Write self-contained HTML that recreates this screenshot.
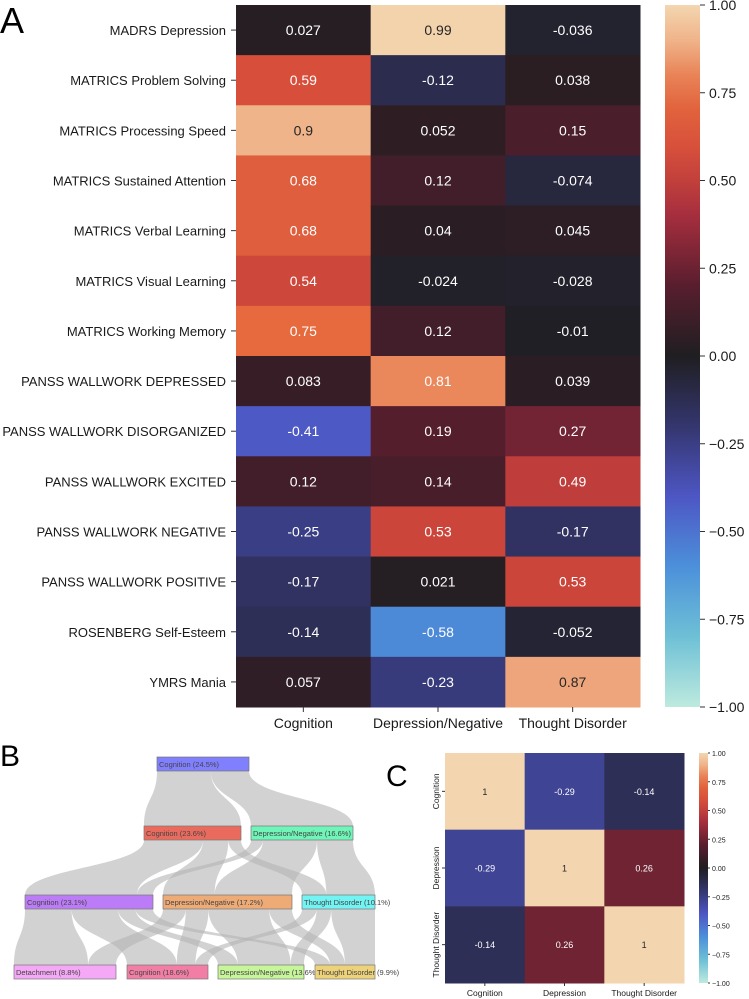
<!DOCTYPE html>
<html><head><meta charset="utf-8"><style>
body{margin:0;background:#fff;font-family:"Liberation Sans","DejaVu Sans",sans-serif;}
svg{display:block}
</style></head><body>
<svg id="fig" width="749" height="999" xmlns="http://www.w3.org/2000/svg">
<text x="0" y="33" font-size="36">A</text>
<text x="0" y="766" font-size="30">B</text>
<text x="386" y="786" font-size="30">C</text>
<g id="main"></g><g id="sankey"></g><g id="corr"></g>
<defs><linearGradient id="cbgrad" x1="0" y1="1" x2="0" y2="0"></linearGradient></defs>
</svg>
<script>
const rowsA=["MADRS Depression","MATRICS Problem Solving","MATRICS Processing Speed","MATRICS Sustained Attention","MATRICS Verbal Learning","MATRICS Visual Learning","MATRICS Working Memory","PANSS WALLWORK DEPRESSED","PANSS WALLWORK DISORGANIZED","PANSS WALLWORK EXCITED","PANSS WALLWORK NEGATIVE","PANSS WALLWORK POSITIVE","ROSENBERG Self-Esteem","YMRS Mania"];
const colsA=["Cognition","Depression/Negative","Thought Disorder"];
const cogVals=[0.027,0.59,0.9,0.68,0.68,0.54,0.75,0.083,-0.41,0.12,-0.25,-0.17,-0.14,0.057];
const depVals=[0.99,-0.12,0.052,0.12,0.04,-0.024,0.12,0.81,0.19,0.14,0.53,0.021,-0.58,-0.23];
const tdVals=[-0.036,0.038,0.15,-0.074,0.045,-0.028,-0.01,0.039,0.27,0.49,-0.17,0.53,-0.052,0.87];
const cbTicks=[1.00,0.75,0.50,0.25,0.00,-0.25,-0.50,-0.75,-1.00];
const corrLabels=["Cognition","Depression","Thought Disorder"];
const corrRow1=[1,-0.29,-0.14];
const corrRow2=[-0.29,1,0.26];
const corrRow3=[-0.14,0.26,1];
const sankeyNodes=[
 {id:"c245",label:"Cognition (24.5%)",lvl:0,x0:157,x1:249,col:"#8080ff"},
 {id:"c236",label:"Cognition (23.6%)",lvl:1,x0:144,x1:241,col:"#ea6b5e"},
 {id:"d166",label:"Depression/Negative (16.6%)",lvl:1,x0:251,x1:353,col:"#6ff5b8"},
 {id:"c231",label:"Cognition (23.1%)",lvl:2,x0:25,x1:153,col:"#bd7cf7"},
 {id:"d172",label:"Depression/Negative (17.2%)",lvl:2,x0:163,x1:292,col:"#efab76"},
 {id:"t101",label:"Thought Disorder (10.1%)",lvl:2,x0:302,x1:375,col:"#72f4f4"},
 {id:"det",label:"Detachment (8.8%)",lvl:3,x0:14,x1:116,col:"#f4a8f6"},
 {id:"c186",label:"Cognition (18.6%)",lvl:3,x0:127,x1:208,col:"#f27ea6"},
 {id:"d136",label:"Depression/Negative (13.6%)",lvl:3,x0:218,x1:304,col:"#c6f59a"},
 {id:"t99",label:"Thought Disorder (9.9%)",lvl:3,x0:315,x1:375,col:"#edd27a"}];
const sankeyLinks=[["c245","c236",14],["c245","d166",10],
 ["c236","c231",14],["c236","d172",6],["c236","t101",3],
 ["d166","c231",2],["d166","d172",9],["d166","t101",6],
 ["c231","det",8],["c231","c186",8],["c231","d136",3],["c231","t99",3],
 ["d172","det",3],["d172","c186",3],["d172","d136",8],["d172","t99",3],
 ["t101","c186",2],["t101","d136",2],["t101","t99",6]];

const NS="http://www.w3.org/2000/svg";
function el(tag,attrs,parent,txt){const e=document.createElementNS(NS,tag);for(const k in attrs)e.setAttribute(k,attrs[k]);if(txt!==undefined)e.textContent=txt;parent.appendChild(e);return e;}
const stops=[[0,[189,234,222]],[0.1,[110,192,214]],[0.2,[76,144,218]],[0.3,[77,86,196]],[0.4,[52,54,110]],[0.5,[31,30,33]],[0.6,[88,30,46]],[0.7,[165,46,62]],[0.78,[212,74,58]],[0.875,[230,106,62]],[0.95,[240,180,138]],[1,[243,214,176]]];
function cmapRGB(v){let t=(v+1)/2;t=Math.max(0,Math.min(1,t));for(let i=1;i<stops.length;i++){if(t<=stops[i][0]){const a=stops[i-1],b=stops[i];const f=(t-a[0])/(b[0]-a[0]);return a[1].map((c,j)=>Math.round(c+(b[1][j]-c)*f));}}return stops[stops.length-1][1];}
function cmap(v){const c=cmapRGB(v);return `rgb(${c[0]},${c[1]},${c[2]})`;}
function txtCol(v){const c=cmapRGB(v).map(x=>{x/=255;return x<=0.03928?x/12.92:Math.pow((x+0.055)/1.055,2.4)});const L=0.2126*c[0]+0.7152*c[1]+0.0722*c[2];return L>0.408?"#262626":"#ffffff";}
const grad=document.getElementById('cbgrad');
for(let i=0;i<=20;i++){el('stop',{offset:i/20,'stop-color':cmap(-1+i/10)},grad);}

// Main heatmap
(function(){
const g=document.getElementById('main');
const X0=236,X1=640,Y0=5,Y1=707;
const cw=(X1-X0)/colsA.length, rh=(Y1-Y0)/rowsA.length;
const xS=i=>X0+i*cw, yS=i=>Y0+i*rh;
const series=[cogVals,depVals,tdVals];
series.forEach((vals,ci)=>{vals.forEach((v,ri)=>{
 const r=el('rect',{x:xS(ci),y:yS(ri),width:cw+0.5,height:rh+0.5,fill:cmap(v)},g);
 
 
 const t=el('text',{x:xS(ci)+cw/2,y:yS(ri)+rh/2+5,'font-size':14,'text-anchor':'middle',fill:txtCol(v)},g,String(v));
 
 
});});
rowsA.forEach((r,i)=>{
 el('line',{x1:X0-5,x2:X0,y1:yS(i)+rh/2,y2:yS(i)+rh/2,stroke:'#333'},g);
 const t=el('text',{x:X0-10,y:yS(i)+rh/2+5,'font-size':13,'text-anchor':'end',fill:'#1a1a1a'},g,r);
 
 
});
colsA.forEach((c,i)=>{
 el('line',{x1:xS(i)+cw/2,x2:xS(i)+cw/2,y1:Y1,y2:Y1+5,stroke:'#333'},g);
 const t=el('text',{x:xS(i)+cw/2,y:Y1+21,'font-size':14,'text-anchor':'middle',fill:'#1a1a1a'},g,c);
 
 
});
const cb=el('rect',{x:665,y:Y0,width:35,height:Y1-Y0,fill:'url(#cbgrad)'},g);


cbTicks.forEach(v=>{const y=Y0+(1-v)/2*(Y1-Y0);
 el('line',{x1:700,x2:705,y1:y,y2:y,stroke:'#333'},g);
 const t=el('text',{x:709,y:y+5,'font-size':14,fill:'#1a1a1a'},g,(v<0?'\u2212':'')+Math.abs(v).toFixed(2));
 
 
});
})();

// Sankey
(function(){
const g=document.getElementById('sankey');
const lvlY=[757,826,895,965], NH=14;
const nodes={};sankeyNodes.forEach(n=>{nodes[n.id]=Object.assign({},n,{outSum:0,inSum:0,outPos:0,inPos:0});});
sankeyLinks.forEach(l=>{nodes[l[0]].outSum+=l[2];nodes[l[1]].inSum+=l[2];});
const lg=el('g',{},g);
sankeyLinks.forEach(l=>{
 const s=nodes[l[0]],t=nodes[l[1]];
 const sw=(s.x1-s.x0)*l[2]/s.outSum, tw=(t.x1-t.x0)*l[2]/t.inSum;
 const sx0=s.x0+s.outPos, sx1=sx0+sw; s.outPos+=sw;
 const tx0=t.x0+t.inPos, tx1=tx0+tw; t.inPos+=tw;
 const y0=lvlY[s.lvl]+NH, y1=lvlY[t.lvl], ym=(y0+y1)/2;
 const p=el('path',{d:`M${sx0},${y0} C${sx0},${ym} ${tx0},${ym} ${tx0},${y1} L${tx1},${y1} C${tx1},${ym} ${sx1},${ym} ${sx1},${y0} Z`,fill:'#b4b4b4','fill-opacity':0.6},lg);
 
 
});
sankeyNodes.forEach(n=>{
 const r=el('rect',{x:n.x0,y:lvlY[n.lvl],width:n.x1-n.x0,height:NH,fill:n.col,stroke:'#777','stroke-width':0.7},g);
 
 
 const t=el('text',{x:n.x0+2,y:lvlY[n.lvl]+10,'font-size':7.5,fill:'#444'},g,n.label);
 
 
});
})();

// Correlation heatmap
(function(){
const g=document.getElementById('corr');
const X0=445,X1=684,Y0=753,Y1=983;
const cw=(X1-X0)/3, rh=(Y1-Y0)/3;
const rows=[corrRow1,corrRow2,corrRow3];
rows.forEach((vals,ri)=>vals.forEach((v,ci)=>{
 const r=el('rect',{x:X0+ci*cw,y:Y0+ri*rh,width:cw+0.5,height:rh+0.5,fill:cmap(v)},g);
 
 
 const t=el('text',{x:X0+ci*cw+cw/2,y:Y0+ri*rh+rh/2+3.5,'font-size':9,'text-anchor':'middle',fill:txtCol(v)},g,String(v));
 
 
}));
corrLabels.forEach((c,i)=>{
 const cx=X0+i*cw+cw/2, cy=Y0+i*rh+rh/2;
 el('line',{x1:cx,x2:cx,y1:Y1,y2:Y1+3,stroke:'#333'},g);
 const t=el('text',{x:cx,y:Y1+13,'font-size':8.5,'text-anchor':'middle',fill:'#1a1a1a'},g,c);
 
 
 el('line',{x1:X0-3,x2:X0,y1:cy,y2:cy,stroke:'#333'},g);
 const t2=el('text',{x:0,y:0,'font-size':8.5,'text-anchor':'middle',fill:'#1a1a1a',transform:`translate(${X0-6},${cy}) rotate(-90)`},g,c);
 
 
});
const cb=el('rect',{x:699,y:Y0,width:9,height:Y1-Y0,fill:'url(#cbgrad)'},g);


cbTicks.forEach(v=>{const y=Y0+(1-v)/2*(Y1-Y0);
 el('line',{x1:708,x2:710,y1:y,y2:y,stroke:'#333'},g);
 const t=el('text',{x:712,y:y+3,'font-size':7,fill:'#1a1a1a'},g,(v<0?'\u2212':'')+Math.abs(v).toFixed(2));
 
 
});
})();
</script>
</body></html>
